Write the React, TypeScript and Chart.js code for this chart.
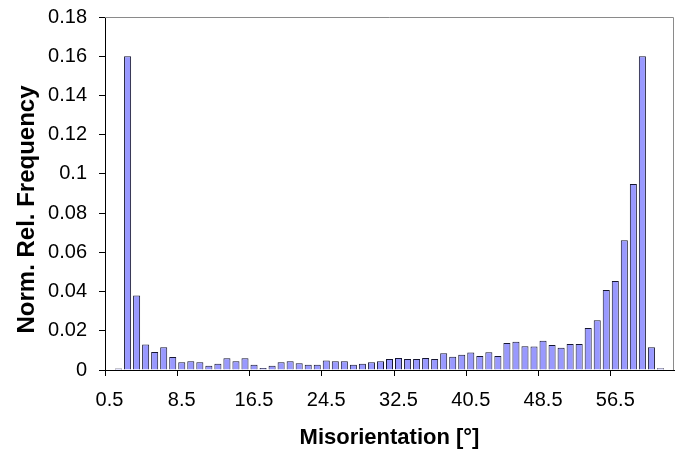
import React, { useEffect, useRef } from "react";
import { Chart, registerables } from "chart.js";

Chart.register(...registerables);

// Bin centres of the misorientation histogram, in degrees (1° bins)
const binCentres: string[] = [
  "0.5", "1.5", "2.5", "3.5", "4.5", "5.5", "6.5", "7.5", "8.5", "9.5",
  "10.5", "11.5", "12.5", "13.5", "14.5", "15.5", "16.5", "17.5", "18.5", "19.5",
  "20.5", "21.5", "22.5", "23.5", "24.5", "25.5", "26.5", "27.5", "28.5", "29.5",
  "30.5", "31.5", "32.5", "33.5", "34.5", "35.5", "36.5", "37.5", "38.5", "39.5",
  "40.5", "41.5", "42.5", "43.5", "44.5", "45.5", "46.5", "47.5", "48.5", "49.5",
  "50.5", "51.5", "52.5", "53.5", "54.5", "55.5", "56.5", "57.5", "58.5", "59.5",
  "60.5", "61.5", "62.5",
];

// Normalised relative frequency per bin
const frequency: number[] = [
  0, 0.0008, 0.16, 0.038, 0.013, 0.0092, 0.0116, 0.0066, 0.0039, 0.0044,
  0.0039, 0.0022, 0.0032, 0.006, 0.0044, 0.006, 0.0027, 0.001, 0.0022, 0.0039,
  0.0044, 0.0034, 0.0027, 0.0027, 0.0049, 0.0044, 0.0044, 0.0027, 0.0032, 0.0039,
  0.0044, 0.0056, 0.0061, 0.0056, 0.0056, 0.0061, 0.0056, 0.0085, 0.0068, 0.0078,
  0.0089, 0.0072, 0.009, 0.0072, 0.0138, 0.0144, 0.0121, 0.012, 0.0149, 0.0127,
  0.0114, 0.0133, 0.0133, 0.0214, 0.0254, 0.0408, 0.0454, 0.0661, 0.0948, 0.16,
  0.0116, 0.0009, 0,
];

// Only every eighth bin carries a label and a tick mark
const labelEvery = 8;

const yMax = 0.18;
const yStep = 0.02;

const xTitle = "Misorientation [°]";
const yTitle = "Norm. Rel. Frequency";

const FONT = "'Liberation Sans', Arial, Helvetica, sans-serif";

// Thin grey frame along the top and right of the plot area,
// plus the rotated y-axis title set slightly below the axis middle
const plotFrame = {
  id: "plotFrame",
  afterDraw(chart: Chart) {
    const { ctx, chartArea } = chart;
    ctx.save();
    ctx.strokeStyle = "#8a8a8a";
    ctx.lineWidth = 1;
    ctx.beginPath();
    ctx.moveTo(chartArea.left, chartArea.top + 0.5);
    ctx.lineTo(chartArea.right - 0.5, chartArea.top + 0.5);
    ctx.lineTo(chartArea.right - 0.5, chartArea.bottom);
    ctx.stroke();

    const midY = (chartArea.top + chartArea.bottom) / 2 + 16;
    ctx.translate(27, midY);
    ctx.rotate(-Math.PI / 2);
    ctx.fillStyle = "#000000";
    ctx.font = `bold 24px ${FONT}`;
    ctx.textAlign = "center";
    ctx.textBaseline = "middle";
    ctx.fillText(yTitle, 0, 0);
    ctx.restore();
  },
};

export default function App() {
  const canvasRef = useRef<HTMLCanvasElement | null>(null);

  useEffect(() => {
    document.body.style.margin = "0";
    const canvas = canvasRef.current;
    if (!canvas) return;

    const chart = new Chart(canvas, {
      type: "bar",
      data: {
        labels: binCentres,
        datasets: [
          {
            data: frequency,
            backgroundColor: "#9999ff",
            borderColor: "#161630",
            borderWidth: 1,
            barPercentage: 0.78,
            categoryPercentage: 1,
          },
        ],
      },
      options: {
        responsive: false,
        animation: false,
        layout: { padding: { top: 17, right: 1, left: 0, bottom: 0 } },
        plugins: {
          legend: { display: false },
          tooltip: { enabled: false },
        },
        scales: {
          x: {
            type: "category",
            offset: true,
            grid: {
              offset: true,
              drawOnChartArea: false,
              drawTicks: true,
              tickLength: 6,
              color: (ctx: any) =>
                ctx.index % labelEvery === 0 ? "#000000" : "rgba(0,0,0,0)",
            },
            border: { display: true, color: "#000000", width: 1 },
            ticks: {
              autoSkip: false,
              maxRotation: 0,
              minRotation: 0,
              padding: 12,
              color: "#000000",
              font: { family: FONT, size: 20 },
              callback: (_v: any, i: number) =>
                i % labelEvery === 0 ? binCentres[i] : "",
            },
            title: {
              display: true,
              text: xTitle,
              color: "#000000",
              font: { family: FONT, size: 22, weight: "bold" },
              padding: { top: 0, bottom: 6 },
            },
            afterFit: (scale: any) => {
              scale.height = 87;
              scale.paddingLeft = 0;
              scale.paddingRight = 0;
            },
          },
          y: {
            min: 0,
            max: yMax,
            grid: {
              drawOnChartArea: false,
              drawTicks: true,
              tickLength: 6,
              color: "#000000",
            },
            border: { display: true, color: "#000000", width: 1 },
            ticks: {
              stepSize: yStep,
              padding: 12,
              color: "#000000",
              font: { family: FONT, size: 20 },
              callback: (v: any) => String(Number(Number(v).toFixed(2))),
            },
            title: { display: false },
            afterFit: (scale: any) => {
              scale.width = 105;
              scale.paddingTop = 0;
              scale.paddingBottom = 0;
            },
          },
        },
      },
      plugins: [plotFrame],
    });

    return () => chart.destroy();
  }, []);

  return (
    <div style={{ position: "fixed", left: 0, top: 0, width: 675, height: 457, background: "#ffffff" }}>
      <canvas ref={canvasRef} width={675} height={457} style={{ display: "block" }} />
    </div>
  );
}
